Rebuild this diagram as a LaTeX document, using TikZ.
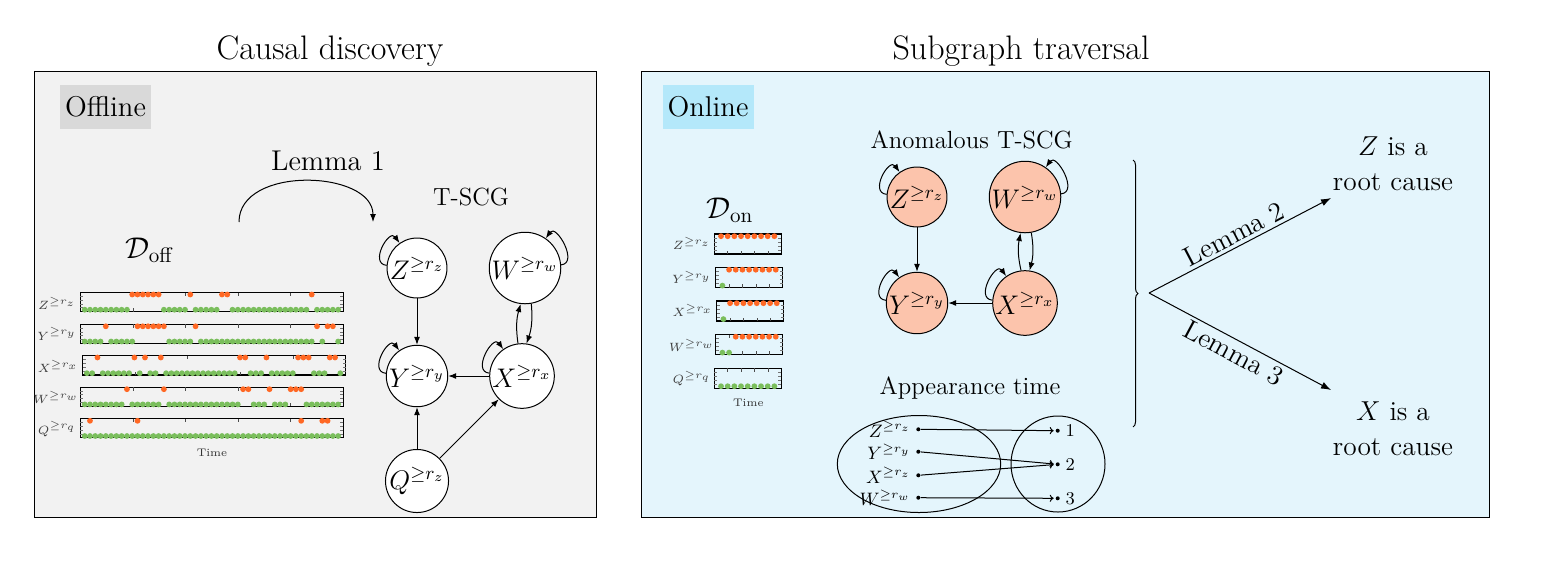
\RequirePackage{fix-cm}
\documentclass[tikz,border=0pt]{standalone}
\usetikzlibrary{arrows.meta,shapes.geometric,decorations.pathreplacing}
\definecolor{panelL}{gray}{0.95}
\definecolor{labL}{gray}{0.85}
\definecolor{panelR}{RGB}{228,245,252}
\definecolor{labR}{RGB}{180,232,250}
\definecolor{peach}{RGB}{252,196,172}
\definecolor{odotc}{RGB}{255,104,36}
\definecolor{gdotc}{RGB}{122,190,92}
\newcommand\fsTitle{\fontsize{17}{20}\selectfont}
\newcommand\fsTag{\fontsize{14.3}{17}\selectfont}
\newcommand\fsMain{\fontsize{13.7}{17.5}\selectfont}
\newcommand\fsSub{\fontsize{12.4}{15}\selectfont}
\newcommand\fsNode{\fontsize{13.45}{16}\selectfont}
\newcommand\fsData{\fontsize{15}{18}\selectfont}
\newcommand\fsTiny{\fontsize{6}{7}\selectfont}
\newcommand\fsTime{\fontsize{5.5}{6.5}\selectfont}
\newcommand\fsApp{\fontsize{9}{11}\selectfont}
\newcommand\tsframe[4]{%
  \draw[plotframe] (#1,#2) rectangle ({#1+#3},{#2+#4});
  \foreach \k in {1,2,3,4}{
    \draw[xtk] ({#1+#3*\k/5},#2) -- ({#1+#3*\k/5},{#2+3.5});
    \draw[xtk] ({#1+#3*\k/5},{#2+#4}) -- ({#1+#3*\k/5},{#2+#4-3.5});
    \draw[ytk] (#1,{#2+#4*\k/5}) -- ({#1+3},{#2+#4*\k/5});
    \draw[ytk] ({#1+#3},{#2+#4*\k/5}) -- ({#1+#3-3},{#2+#4*\k/5});
  }}
\newcommand\tsdots[5]{%
  \foreach \i in {#5}{\fill[#4] ({#1+#2*\i},#3) circle[radius=1.45pt];}}
\begin{document}
\begin{tikzpicture}[x=0.5pt,y=-0.5pt,
  arr/.style={-{Latex[length=4pt,width=3pt]},line width=0.5pt},
  larr/.style={-{Latex[length=5pt,width=3.6pt]},line width=0.5pt},
  aarr/.style={-{To[length=2pt,width=3.6pt]},line width=0.5pt,shorten >=0.8pt},
  vtx/.style={circle,draw,line width=0.5pt,inner sep=0.3pt,fill=white,font=\fsNode},
  avtx/.style={vtx,fill=peach},
  plotframe/.style={line width=0.6pt},
  xtk/.style={line width=0.4pt,black!70},
  ytk/.style={line width=0.4pt,black!55},
  rowlab/.style={font=\fsTiny,text=black!75},
  timelab/.style={font=\fsTime,text=black!80},
  dotn/.style={circle,fill=black,inner sep=0pt,minimum size=2pt},
  applab/.style={font=\fsApp,inner sep=1pt},
  tag/.style={font=\fsTag,minimum width=45.5pt,minimum height=22.2pt,inner sep=0.3pt}]
\useasboundingbox (0,0) rectangle (1545,580);
% panels
\draw[fill=panelL,line width=0.5pt] (34,71) rectangle (596,517);
\draw[fill=panelR,line width=0.5pt] (641,71) rectangle (1489,517);
\node[font=\fsTitle] (t1) at (330,51) {Causal discovery};
\node[font=\fsTitle] (t2) at (1021,51) {Subgraph traversal};
\node[tag,fill=labL] (off) at (105.5,107.2) {Offline};
\node[tag,fill=labR] (on) at (708,107.2) {Online};
% ---------------- left: offline data
\node[font=\fsData] (doff) at (150,250) {$\mathcal{D}_{\mathrm{off}}$};
\tsframe{80.3}{292.5}{263}{19}
\tsframe{80.3}{324.3}{263}{19}
\tsframe{82.5}{355.5}{263}{19.5}
\tsframe{80.3}{387.2}{263}{19}
\tsframe{80.3}{418.8}{263}{19}
\tsdots{84.7}{5.28}{309.7}{gdotc}{0,1,2,3,4,5,6,7,8,15,16,17,18,19,21,22,23,24,25,28,29,30,31,32,33,34,35,36,37,38,39,40,41,42,44,45,46,47,48}
\tsdots{84.7}{5.28}{294.5}{odotc}{9,10,11,12,13,14,20,26,27,43}
\tsdots{84.7}{5.28}{341.5}{gdotc}{0,1,2,3,5,6,7,8,9,16,17,18,19,20,22,23,24,25,26,27,28,29,30,31,32,33,34,35,36,37,38,39,40,41,42,43,45,48}
\tsdots{84.7}{5.28}{326.3}{odotc}{4,10,11,12,13,14,15,21,44,46,47}
\tsdots{86.9}{5.28}{373.2}{gdotc}{0,1,3,4,5,6,7,8,10,12,13,15,16,17,18,19,20,21,22,23,24,25,26,27,28,31,32,33,35,36,37,38,39,43,44,45,48}
\tsdots{86.9}{5.28}{357.5}{odotc}{2,9,11,14,29,30,34,40,41,42,46,47}
\tsdots{84.7}{5.28}{404.4}{gdotc}{0,1,2,3,4,5,6,7,9,10,11,12,13,14,16,17,18,19,20,21,22,23,24,25,26,27,28,29,32,33,34,36,37,38,42,43,44,45,46,47,48}
\tsdots{84.7}{5.28}{389.2}{odotc}{8,15,30,31,35,39,40,41}
\tsdots{84.7}{5.28}{436}{gdotc}{0,...,48}
\tsdots{84.7}{5.28}{420.8}{odotc}{1,10,41,45,46}
\node[rowlab] (lz) at (57,303) {$Z^{\geq r_z}$};
\node[rowlab] (ly) at (57,334) {$Y^{\geq r_y}$};
\node[rowlab] (lx) at (58,366) {$X^{\geq r_x}$};
\node[rowlab] (lw) at (56,397) {$W^{\geq r_w}$};
\node[rowlab] (lq) at (57,429) {$Q^{\geq r_q}$};
\node[timelab] (ltime) at (212,453) {Time};
% ---------------- left: Lemma 1 arrow
\coordinate (l1a) at (239,222);
\coordinate (l1b) at (373,222);
\draw[arr] (l1a) .. controls +(0,-57) and +(0,-52) .. (l1b);
\node[font=\fsTag] (lem1) at (328,160.5) {Lemma 1};
\node[font=\fsSub] (tscg) at (471,197) {T-SCG};
% ---------------- left: T-SCG
\node[vtx] (Z) at (417,268) {$Z^{\geq r_z}$};
\node[vtx] (W) at (525,268) {$W^{\geq r_w}$};
\node[vtx] (Y) at (417,376) {$Y^{\geq r_y}$};
\node[vtx] (X) at (522,376) {$X^{\geq r_x}$};
\node[vtx] (Q) at (417,481) {$Q^{\geq r_z}$};
\draw[arr] (Z) -- (Y);
\draw[arr] (X) -- (Y);
\draw[arr] (Q) -- (Y);
\draw[arr] (Q) -- (X);
\draw[arr] (X.97) to[bend left=12] (W.-97);
\draw[arr] (W.-80) to[bend left=12] (X.82);
\draw[arr] (Z) to[out=175,in=125,distance=9pt] (Z);
\draw[arr] (Y) to[out=175,in=125,distance=9pt] (Y);
\draw[arr] (X) to[out=175,in=125,distance=9pt] (X);
\draw[arr] (W) to[out=5,in=55,distance=9pt] (W);
% ---------------- middle: online data
\node[font=\fsData] (don) at (730,210) {$\mathcal{D}_{\mathrm{on}}$};
\tsframe{714.3}{234}{67}{20}
\tsframe{715.7}{267.5}{67}{20}
\tsframe{716.7}{301}{67}{20}
\tsframe{715.7}{334.5}{67}{20}
\tsframe{714.3}{368.3}{67}{20}
\tsdots{721}{6.67}{236.2}{odotc}{0,...,8}
\tsdots{722.4}{6.67}{285.6}{gdotc}{0}
\tsdots{722.4}{6.67}{269.7}{odotc}{1,...,8}
\tsdots{723.4}{6.67}{319.1}{gdotc}{0}
\tsdots{723.4}{6.67}{303.2}{odotc}{1,...,8}
\tsdots{722.4}{6.67}{352.6}{gdotc}{0,1}
\tsdots{722.4}{6.67}{336.7}{odotc}{2,...,8}
\tsdots{721}{6.67}{386.2}{gdotc}{0,...,8}
\node[rowlab] (mz) at (691.7,243.3) {$Z^{\geq r_z}$};
\node[rowlab] (my) at (691.7,277.3) {$Y^{\geq r_y}$};
\node[rowlab] (mx) at (692.7,310.7) {$X^{\geq r_x}$};
\node[rowlab] (mw) at (691.7,345) {$W^{\geq r_w}$};
\node[rowlab] (mq) at (691.7,378.3) {$Q^{\geq r_q}$};
\node[timelab] (mtime) at (748.3,403.3) {Time};
% ---------------- middle: anomalous T-SCG
\node[font=\fsSub] (atscg) at (971.7,140) {Anomalous T-SCG};
\node[avtx] (Za) at (917,197) {$Z^{\geq r_z}$};
\node[avtx] (Wa) at (1025,197) {$W^{\geq r_w}$};
\node[avtx] (Ya) at (917,303) {$Y^{\geq r_y}$};
\node[avtx] (Xa) at (1025,303) {$X^{\geq r_x}$};
\draw[arr] (Za) -- (Ya);
\draw[arr] (Xa) -- (Ya);
\draw[arr] (Xa.97) to[bend left=12] (Wa.-97);
\draw[arr] (Wa.-80) to[bend left=12] (Xa.82);
\draw[arr] (Za) to[out=175,in=125,distance=9pt] (Za);
\draw[arr] (Ya) to[out=175,in=125,distance=9pt] (Ya);
\draw[arr] (Xa) to[out=175,in=125,distance=9pt] (Xa);
\draw[arr] (Wa) to[out=5,in=55,distance=9pt] (Wa);
% ---------------- middle: appearance time
\node[font=\fsSub] (appt) at (970,388) {Appearance time};
\node[ellipse,draw,line width=0.5pt,minimum width=81.7pt,minimum height=48.5pt] (setA) at (919,464) {};
\node[ellipse,draw,line width=0.5pt,minimum width=47pt,minimum height=48pt] (setB) at (1058,464) {};
\node[dotn] (a1) at (918.3,429.3) {};
\node[dotn] (a2) at (918.3,451.7) {};
\node[dotn] (a3) at (918.3,475.3) {};
\node[dotn] (a4) at (918.3,497.7) {};
\node[dotn] (b1) at (1057.7,430.7) {};
\node[dotn] (b2) at (1057.7,464.3) {};
\node[dotn] (b3) at (1057.7,498.3) {};
\node[applab,anchor=east] (la1) at ([xshift=-1.5pt]a1.west) {$Z^{\geq r_z}$};
\node[applab,anchor=east] (la2) at ([xshift=-1.5pt]a2.west) {$Y^{\geq r_y}$};
\node[applab,anchor=east] (la3) at ([xshift=-1.5pt]a3.west) {$X^{\geq r_z}$};
\node[applab,anchor=east] (la4) at ([xshift=-1.5pt]a4.west) {$W^{\geq r_w}$};
\node[applab,anchor=west] (lb1) at ([xshift=1.5pt]b1.east) {1};
\node[applab,anchor=west] (lb2) at ([xshift=1.5pt]b2.east) {2};
\node[applab,anchor=west] (lb3) at ([xshift=1.5pt]b3.east) {3};
\draw[aarr] (a1) -- (b1);
\draw[aarr] (a2) -- (b2);
\draw[aarr] (a3) -- (b2);
\draw[aarr] (a4) -- (b3);
% ---------------- right: lemmas
\coordinate (br1) at (1133,160);
\coordinate (br2) at (1133,427);
\draw[decorate,decoration={brace,amplitude=2.5pt},line width=0.5pt] (br1) -- (br2);
\coordinate (fork) at (1149,293);
\coordinate (tz) at (1331,198);
\coordinate (tx) at (1331,390);
\draw[larr] (fork) -- node[sloped,above,font=\fsMain,pos=0.5,inner sep=1.5pt] (lem2) {Lemma 2} (tz);
\draw[larr] (fork) -- node[sloped,below,font=\fsMain,pos=0.5,inner sep=1.5pt] (lem3) {Lemma 3} (tx);
\node[font=\fsMain,align=center] (rcz) at (1393,164) {$Z$ is a\\root cause};
\node[font=\fsMain,align=center] (rcx) at (1393,429) {$X$ is a\\root cause};
\end{tikzpicture}
\end{document}
